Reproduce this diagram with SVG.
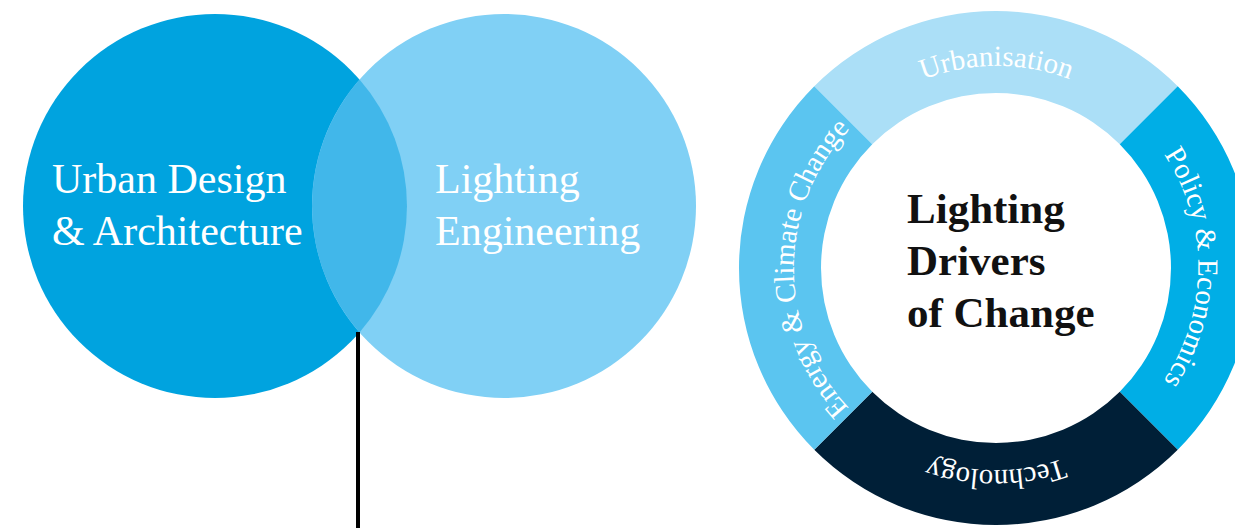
<svg xmlns="http://www.w3.org/2000/svg" xmlns:xlink="http://www.w3.org/1999/xlink" width="1235" height="528" viewBox="0 0 1235 528">
<defs>
<style>
.vt{font-family:"Liberation Serif","Times New Roman",serif;font-size:42px;fill:#ffffff}
.rt{font-family:"Liberation Serif","Times New Roman",serif;font-size:29px;fill:#ffffff}
.ct{font-family:"Liberation Serif","Times New Roman",serif;font-size:43px;font-weight:bold;fill:#111111}
</style>
<path id="ringPath" d="M 852.46 411.54 A 203 203 0 0 1 1139.54 124.46 A 203 203 0 0 1 852.46 411.54" fill="none"/>
</defs>
<rect width="1235" height="528" fill="#ffffff"/>
<g id="venn-urban-design">
<circle cx="215" cy="206" r="192" fill="#00a3df"/>
<text class="vt" x="52" y="193">Urban Design</text>
<text class="vt" x="52" y="245">&amp; Architecture</text>
</g>
<g id="venn-lighting-engineering">
<circle cx="504" cy="206" r="192" fill="#80d0f5"/>
<path d="M 359.5 79.6 A 192 192 0 0 1 359.5 332.4 A 192 192 0 0 1 359.5 79.6 Z" fill="#41b7ea"/>
<text class="vt" x="435" y="193">Lighting</text>
<text class="vt" x="435" y="245">Engineering</text>
</g>
<g id="connectors">
<line x1="358" y1="332" x2="358" y2="528" stroke="#000000" stroke-width="4"/>
</g>
<g id="ring-urbanisation">
<path d="M 814.27 86.27 A 257 257 0 0 1 1177.73 86.27 L 1119.74 144.26 A 175 175 0 0 0 872.26 144.26 Z" fill="#abdff7"/>
<text class="rt"><textPath xlink:href="#ringPath" href="#ringPath" startOffset="37.5%" text-anchor="middle">Urbanisation</textPath></text>
</g>
<g id="ring-policy">
<path d="M 1177.73 86.27 A 257 257 0 0 1 1177.73 449.73 L 1119.74 391.74 A 175 175 0 0 0 1119.74 144.26 Z" fill="#00aee6"/>
<text class="rt"><textPath xlink:href="#ringPath" href="#ringPath" startOffset="62.5%" text-anchor="middle">Policy &amp; Economics</textPath></text>
</g>
<g id="ring-technology">
<path d="M 1177.73 449.73 A 257 257 0 0 1 814.27 449.73 L 872.26 391.74 A 175 175 0 0 0 1119.74 391.74 Z" fill="#001f37"/>
<text class="rt"><textPath xlink:href="#ringPath" href="#ringPath" startOffset="87.5%" text-anchor="middle">Technology</textPath></text>
</g>
<g id="ring-energy">
<path d="M 814.27 449.73 A 257 257 0 0 1 814.27 86.27 L 872.26 144.26 A 175 175 0 0 0 872.26 391.74 Z" fill="#5bc5f0"/>
<text class="rt"><textPath xlink:href="#ringPath" href="#ringPath" startOffset="12.5%" text-anchor="middle">Energy &amp; Climate Change</textPath></text>
</g>
<g id="center-title">
<text class="ct" x="907" y="223">Lighting</text>
<text class="ct" x="907" y="275">Drivers</text>
<text class="ct" x="907" y="327">of Change</text>
</g>
</svg>
